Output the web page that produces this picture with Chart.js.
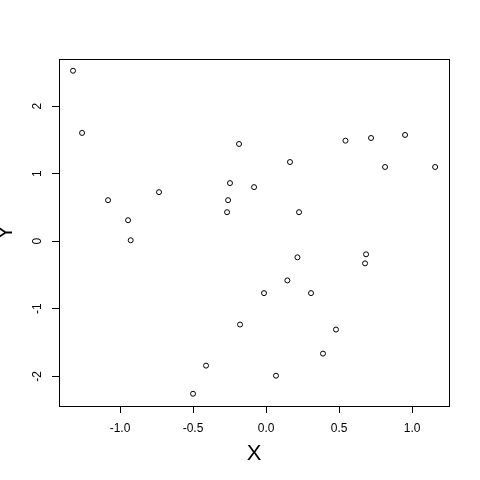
<!DOCTYPE html>
<html>
<head>
<meta charset="utf-8">
<script src="https://cdn.jsdelivr.net/npm/chart.js@4/dist/chart.umd.min.js"></script>
<style>
  html, body { margin: 0; padding: 0; background: #fff; }
  canvas { display: block; }
</style>
</head>
<body>
<canvas id="myChart" width="480" height="480"></canvas>
<script>
// valores
const xValues = [-1.322, -1.260, -1.082, -0.945, -0.733, -0.185, -0.247, -0.082, -0.260, -0.267,
                 0.544, 0.719, 0.952, 0.164, 0.815, 1.158, 0.226, -0.927, -0.178, -0.411,
                 -0.500, 0.215, 0.685, 0.678, 0.146, -0.014, 0.308, 0.479, 0.390, 0.068];
const yValues = [2.526, 1.605, 0.609, 0.312, 0.728, 1.441, 0.862, 0.802, 0.609, 0.431,
                 1.490, 1.530, 1.575, 1.174, 1.100, 1.100, 0.431, 0.015, -1.233, -1.842,
                 -2.259, -0.238, -0.193, -0.327, -0.580, -0.768, -0.768, -1.308, -1.664, -1.991];
const xTicks = [-1.0, -0.5, 0.0, 0.5, 1.0];
const yTicks = [-2, -1, 0, 1, 2];

const fonte = "'Liberation Sans', Arial, sans-serif";

// caixa em volta da area do grafico (estilo R)
const caixaPlugin = {
    id: 'caixa',
    afterDraw(chart) {
        const { ctx, chartArea } = chart;
        ctx.save();
        ctx.strokeStyle = '#000';
        ctx.lineWidth = 1;
        ctx.strokeRect(Math.round(chartArea.left) + 0.5, Math.round(chartArea.top) + 0.5,
            Math.round(chartArea.right - chartArea.left), Math.round(chartArea.bottom - chartArea.top));
        ctx.restore();
    }
};

const pontos = xValues.map((x, i) => ({ x: x, y: yValues[i] }));

const ctx = document.getElementById('myChart').getContext('2d');
const myChart = new Chart(ctx, {
    type: 'scatter',
    data: {
        datasets: [{
            data: pontos,
            pointRadius: 2.5,
            pointBorderWidth: 1,
            pointBorderColor: '#000',
            pointBackgroundColor: 'rgba(0,0,0,0)',
            pointHoverRadius: 2.5
        }]
    },
    options: {
        responsive: false,
        animation: false,
        events: [],
        layout: { padding: { top: 59, right: 31, left: 0, bottom: 0 } },
        plugins: {
            legend: { display: false },
            tooltip: { enabled: false }
        },
        scales: {
            x: {
                type: 'linear',
                min: -1.418,
                max: 1.253,
                afterBuildTicks: (scale) => { scale.ticks = xTicks.map(v => ({ value: v })); },
                afterFit: (scale) => { scale.height = 74; },
                border: { display: false },
                grid: { drawOnChartArea: false, drawTicks: true, tickLength: 7, color: '#000', tickColor: '#000' },
                ticks: {
                    color: '#000',
                    font: { family: fonte, size: 12 },
                    padding: 8,
                    maxRotation: 0,
                    callback: (v) => Number(v).toFixed(1)
                },
                title: {
                    display: true,
                    text: 'X',
                    color: '#000',
                    font: { family: fonte, size: 22 },
                    padding: { top: 13, bottom: 13 }
                }
            },
            y: {
                type: 'linear',
                min: -2.44,
                max: 2.70,
                afterBuildTicks: (scale) => { scale.ticks = yTicks.map(v => ({ value: v })); },
                afterFit: (scale) => { scale.width = 59; },
                border: { display: false },
                grid: { drawOnChartArea: false, drawTicks: true, tickLength: 7, color: '#000', tickColor: '#000' },
                ticks: {
                    color: '#000',
                    font: { family: fonte, size: 12 },
                    padding: 9,
                    minRotation: 90,
                    maxRotation: 90,
                    crossAlign: 'center',
                    callback: (v) => String(v)
                },
                title: {
                    display: true,
                    text: 'Y',
                    color: '#000',
                    font: { family: fonte, size: 22, lineHeight: 0.5 },
                    padding: { top: 0, bottom: 0 }
                }
            }
        }
    },
    plugins: [caixaPlugin]
});
</script>
</body>
</html>
